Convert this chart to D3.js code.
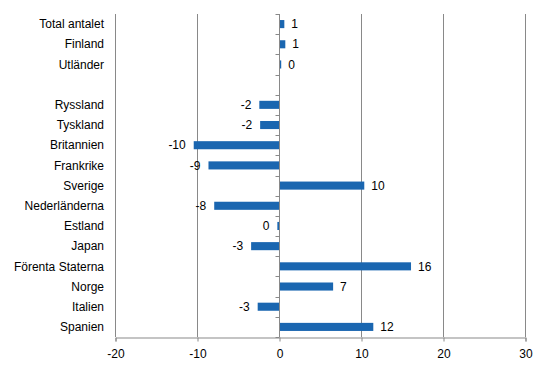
<!DOCTYPE html>
<html>
<head>
<meta charset="utf-8">
<script src="https://cdn.jsdelivr.net/npm/d3@7"></script>
<style>
  body { margin: 0; background: #fff; }
  text { font-family: "Liberation Sans", Arial, sans-serif; }
</style>
</head>
<body>
<div id="vis"></div>
<script>
// categories top to bottom, blank row separates the totals from countries
const categories = ["Total antalet", "Finland", "Utländer", "", "Ryssland", "Tyskland", "Britannien",
    "Frankrike", "Sverige", "Nederländerna", "Estland", "Japan", "Förenta Staterna", "Norge", "Italien", "Spanien"]
const values = [0.65, 0.77, 0.27, null, -2.4, -2.3, -10.4, -8.6, 10.4, -7.9, -0.2, -3.4, 16.1, 6.6, -2.6, 11.5]
const xTicks = [-20, -10, 0, 10, 20, 30]

const width = 546
const height = 376
const margin = {top: 14, right: 21, bottom: 39, left: 115}

const svg = d3.select("#vis")
    .append("svg")
    .attr("width", width)
    .attr("height", height)

const x = d3.scaleLinear()
    .domain([-20, 30])
    .range([margin.left, width - margin.right])

const y = d3.scaleBand()
    .domain(categories.map((c, i) => i))
    .range([margin.top, height - margin.bottom])
    .paddingInner(0.6)
    .paddingOuter(0.3)

const grey = "#898989"

//vertical grid lines
svg.append("g")
    .selectAll("line")
    .data(xTicks.filter(t => t !== 0))
    .enter()
    .append("line")
    .attr("x1", d => x(d) + 0.5)
    .attr("x2", d => x(d) + 0.5)
    .attr("y1", margin.top)
    .attr("y2", height - margin.bottom)
    .attr("stroke", grey)
    .attr("stroke-width", 1)

//bars
const rows = categories.map((c, i) => ({name: c, value: values[i], i: i}))
    .filter(d => d.value !== null)

svg.append("g")
    .selectAll("rect")
    .data(rows)
    .enter()
    .append("rect")
    .attr("x", d => x(Math.min(0, d.value)))
    .attr("width", d => Math.max(1, Math.abs(x(d.value) - x(0))))
    .attr("y", d => y(d.i))
    .attr("height", y.bandwidth())
    .attr("fill", "#1a66b0")

//value labels
svg.append("g")
    .selectAll("text")
    .data(rows)
    .enter()
    .append("text")
    .attr("x", d => d.value >= 0 ? x(d.value) + 7 : x(d.value) - 8)
    .attr("y", d => y(d.i) + y.bandwidth() / 2)
    .attr("dy", "0.35em")
    .attr("text-anchor", d => d.value >= 0 ? "start" : "end")
    .attr("font-size", 12)
    .attr("fill", "#000")
    .text(d => String(Math.round(d.value) || 0))

//zero axis with ticks at band boundaries
const zero = x(0) + 0.5
const step = y.step()
const yAxis = svg.append("g")
yAxis.append("line")
    .attr("x1", zero).attr("x2", zero)
    .attr("y1", margin.top).attr("y2", height - margin.bottom)
    .attr("stroke", grey)
yAxis.selectAll(".tk")
    .data(d3.range(categories.length + 1))
    .enter()
    .append("line")
    .attr("x1", zero - 4).attr("x2", zero)
    .attr("y1", d => Math.round(margin.top + d * step) + 0.5)
    .attr("y2", d => Math.round(margin.top + d * step) + 0.5)
    .attr("stroke", grey)

//category labels
svg.append("g")
    .selectAll("text")
    .data(categories)
    .enter()
    .append("text")
    .attr("x", 104)
    .attr("y", (d, i) => y(i) + y.bandwidth() / 2)
    .attr("dy", "0.35em")
    .attr("text-anchor", "end")
    .attr("font-size", 12)
    .text(d => d)

//bottom axis
const xAxis = d3.axisBottom(x)
    .tickValues(xTicks)
    .tickSize(4)
    .tickPadding(8)
    .tickFormat(d3.format("d"))

const gx = svg.append("g")
    .attr("transform", `translate(0.5, ${height - margin.bottom + 0.5})`)
    .call(xAxis)
gx.select(".domain").attr("stroke", grey)
gx.selectAll(".tick line").attr("stroke", grey)
gx.selectAll(".tick text")
    .attr("font-size", 12)
    .attr("fill", "#000")
    .text(d => String(d).replace("\u2212", "-"))
</script>
</body>
</html>
